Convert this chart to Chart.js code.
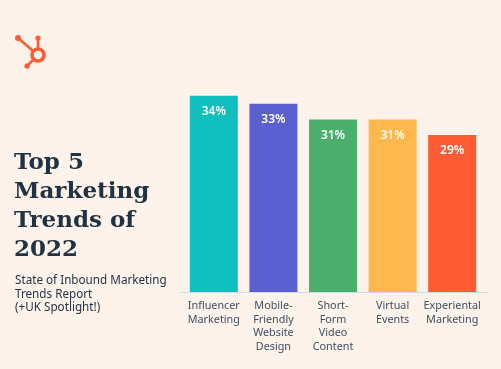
<!DOCTYPE html>
<html>
<head>
<meta charset="utf-8">
<script src="https://cdn.jsdelivr.net/npm/chart.js@4"></script>
<style>
  html, body { margin: 0; padding: 0; background: #fdf3ea; }
  #wrap { position: relative; width: 501px; height: 369px; overflow: hidden; }
  #chart { position: absolute; left: 0; top: 0; }
  #logo { position: absolute; left: 13px; top: 33px; }
  #title {
    position: absolute; left: 14px; top: 146px; margin: 0;
    font-family: "DejaVu Serif", serif; font-weight: bold;
    font-size: 23px; line-height: 29px; color: #213343;
  }
  #sub {
    position: absolute; left: 15px; top: 273px; margin: 0;
    font-family: "Noto Sans", sans-serif; font-size: 11.7px;
    line-height: 13.5px; color: #213343;
  }
</style>
</head>
<body>
<div id="wrap">
  <canvas id="chart" width="501" height="369"></canvas>
  <svg id="logo" width="38" height="38" viewBox="0 0 38 38">
    <g stroke="#ff5c35" stroke-width="2.6" stroke-linecap="round" fill="none">
      <line x1="5" y1="5" x2="19" y2="17"/>
      <line x1="25" y1="5" x2="25" y2="15"/>
      <line x1="14" y1="33" x2="20" y2="27"/>
      <circle cx="25" cy="22" r="6" stroke-width="3.6"/>
    </g>
    <circle cx="5" cy="5" r="3" fill="#ff5c35"/>
    <circle cx="25" cy="5" r="2.6" fill="#ff5c35"/>
    <circle cx="14" cy="33" r="2.6" fill="#ff5c35"/>
  </svg>
  <p id="title">Top 5<br>Marketing<br>Trends of<br>2022</p>
  <p id="sub">State of Inbound Marketing<br>Trends Report<br>(+UK Spotlight!)</p>
</div>
<script>
// Chart data
const categories = [
    ['Influencer', 'Marketing'],
    ['Mobile-', 'Friendly', 'Website', 'Design'],
    ['Short-', 'Form', 'Video', 'Content'],
    ['Virtual', 'Events'],
    ['Experiental', 'Marketing']
];
const shares = [34, 33, 31, 31, 29];
const barColors = ['#12bfbf', '#5b60d1', '#4caf6e', '#ffb84d', '#ff5c35'];

// Write the percentage inside the top of each bar
const valueLabels = {
    id: 'valueLabels',
    afterDatasetsDraw(chart) {
        const c = chart.ctx;
        const meta = chart.getDatasetMeta(0);
        c.save();
        c.fillStyle = '#ffffff';
        c.font = '600 12px "Noto Sans", sans-serif';
        c.textAlign = 'center';
        c.textBaseline = 'middle';
        meta.data.forEach((bar, i) => {
            c.fillText(shares[i] + '%', bar.x, bar.y + 16);
        });
        c.restore();
    }
};

// Thin baseline under the bars
const baseLine = {
    id: 'baseLine',
    afterDatasetsDraw(chart) {
        const c = chart.ctx;
        const y = chart.scales.y.bottom + 0.5;
        c.save();
        c.strokeStyle = '#cfdbe6';
        c.lineWidth = 1;
        c.beginPath();
        c.moveTo(chart.chartArea.left - 4, y);
        c.lineTo(chart.chartArea.right + 6, y);
        c.stroke();
        c.restore();
    }
};

const ctx = document.getElementById('chart').getContext('2d');
const trendsChart = new Chart(ctx, {
    type: 'bar',
    data: {
        labels: categories,
        datasets: [{
            data: shares,
            backgroundColor: barColors,
            borderWidth: 0,
            barPercentage: 0.9,
            categoryPercentage: 0.895
        }]
    },
    options: {
        responsive: false,
        animation: false,
        layout: { padding: { left: 184, right: 19, top: 88, bottom: 0 } },
        plugins: {
            legend: { display: false },
            tooltip: { enabled: false }
        },
        scales: {
            y: {
                display: false,
                min: 9,
                max: 35
            },
            x: {
                grid: { display: false, drawTicks: false },
                border: { display: false },
                afterFit: (scale) => { scale.height = 77; },
                ticks: {
                    padding: 7,
                    maxRotation: 0,
                    autoSkip: false,
                    color: '#3d4f62',
                    font: { family: '"Noto Sans", sans-serif', size: 10.8, lineHeight: 1.27 }
                }
            }
        }
    },
    plugins: [valueLabels, baseLine]
});
</script>
</body>
</html>
